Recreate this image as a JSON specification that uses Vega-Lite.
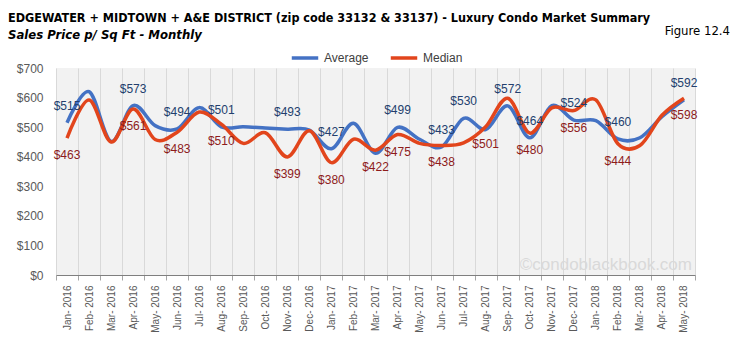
{
  "$schema": "https://vega.github.io/schema/vega-lite/v6.json",
  "autosize": {"type": "none"},
  "width": 639,
  "height": 207,
  "padding": {"left": 56, "top": 68, "right": 43, "bottom": 65},
  "background": "white",
  "title": {
    "text": "EDGEWATER + MIDTOWN + A&E DISTRICT (zip code 33132 & 33137) - Luxury Condo Market Summary",
    "subtitle": "Sales Price  p/ Sq Ft - Monthly",
    "anchor": "start",
    "frame": "group",
    "dx": -48,
    "offset": -17,
    "font": "'Liberation Sans Narrow', 'DejaVu Sans Condensed', Roboto, sans-serif",
    "fontSize": 12.5,
    "fontWeight": "bold",
    "color": "#000000",
    "subtitleFont": "'Liberation Sans Narrow', 'DejaVu Sans Condensed', Roboto, sans-serif",
    "subtitleFontSize": 13,
    "subtitleFontWeight": "bold",
    "subtitleFontStyle": "italic",
    "subtitleColor": "#000000",
    "subtitlePadding": 4
  },
  "data": {"values": [
    {"month": "Jan-2016", "series": "Average", "value": 515, "show": true},
    {"month": "Feb-2016", "series": "Average", "value": 620, "show": false},
    {"month": "Mar-2016", "series": "Average", "value": 452, "show": false},
    {"month": "Apr-2016", "series": "Average", "value": 573, "show": true},
    {"month": "May-2016", "series": "Average", "value": 505, "show": false},
    {"month": "Jun-2016", "series": "Average", "value": 494, "show": true},
    {"month": "Jul-2016", "series": "Average", "value": 566, "show": false},
    {"month": "Aug-2016", "series": "Average", "value": 501, "show": true},
    {"month": "Sep-2016", "series": "Average", "value": 501, "show": false},
    {"month": "Oct-2016", "series": "Average", "value": 497, "show": false},
    {"month": "Nov-2016", "series": "Average", "value": 493, "show": true},
    {"month": "Dec-2016", "series": "Average", "value": 490, "show": false},
    {"month": "Jan-2017", "series": "Average", "value": 427, "show": true},
    {"month": "Feb-2017", "series": "Average", "value": 513, "show": false},
    {"month": "Mar-2017", "series": "Average", "value": 412, "show": false},
    {"month": "Apr-2017", "series": "Average", "value": 499, "show": true},
    {"month": "May-2017", "series": "Average", "value": 459, "show": false},
    {"month": "Jun-2017", "series": "Average", "value": 433, "show": true},
    {"month": "Jul-2017", "series": "Average", "value": 530, "show": true},
    {"month": "Aug-2017", "series": "Average", "value": 492, "show": false},
    {"month": "Sep-2017", "series": "Average", "value": 572, "show": true},
    {"month": "Oct-2017", "series": "Average", "value": 464, "show": true},
    {"month": "Nov-2017", "series": "Average", "value": 573, "show": false},
    {"month": "Dec-2017", "series": "Average", "value": 524, "show": true},
    {"month": "Jan-2018", "series": "Average", "value": 522, "show": false},
    {"month": "Feb-2018", "series": "Average", "value": 460, "show": true},
    {"month": "Mar-2018", "series": "Average", "value": 464, "show": false},
    {"month": "Apr-2018", "series": "Average", "value": 535, "show": false},
    {"month": "May-2018", "series": "Average", "value": 592, "show": true},
    {"month": "Jan-2016", "series": "Median", "value": 463, "show": true},
    {"month": "Feb-2016", "series": "Median", "value": 592, "show": false},
    {"month": "Mar-2016", "series": "Median", "value": 450, "show": false},
    {"month": "Apr-2016", "series": "Median", "value": 561, "show": true},
    {"month": "May-2016", "series": "Median", "value": 458, "show": false},
    {"month": "Jun-2016", "series": "Median", "value": 483, "show": true},
    {"month": "Jul-2016", "series": "Median", "value": 551, "show": false},
    {"month": "Aug-2016", "series": "Median", "value": 510, "show": true},
    {"month": "Sep-2016", "series": "Median", "value": 445, "show": false},
    {"month": "Oct-2016", "series": "Median", "value": 481, "show": false},
    {"month": "Nov-2016", "series": "Median", "value": 399, "show": true},
    {"month": "Dec-2016", "series": "Median", "value": 488, "show": false},
    {"month": "Jan-2017", "series": "Median", "value": 380, "show": true},
    {"month": "Feb-2017", "series": "Median", "value": 459, "show": false},
    {"month": "Mar-2017", "series": "Median", "value": 422, "show": true},
    {"month": "Apr-2017", "series": "Median", "value": 475, "show": true},
    {"month": "May-2017", "series": "Median", "value": 445, "show": false},
    {"month": "Jun-2017", "series": "Median", "value": 438, "show": true},
    {"month": "Jul-2017", "series": "Median", "value": 447, "show": false},
    {"month": "Aug-2017", "series": "Median", "value": 501, "show": true},
    {"month": "Sep-2017", "series": "Median", "value": 598, "show": false},
    {"month": "Oct-2017", "series": "Median", "value": 480, "show": true},
    {"month": "Nov-2017", "series": "Median", "value": 565, "show": false},
    {"month": "Dec-2017", "series": "Median", "value": 556, "show": true},
    {"month": "Jan-2018", "series": "Median", "value": 592, "show": false},
    {"month": "Feb-2018", "series": "Median", "value": 444, "show": true},
    {"month": "Mar-2018", "series": "Median", "value": 438, "show": false},
    {"month": "Apr-2018", "series": "Median", "value": 540, "show": false},
    {"month": "May-2018", "series": "Median", "value": 598, "show": true}
  ]},
  "encoding": {
    "x": {
      "field": "month",
      "type": "nominal",
      "sort": null,
      "scale": {"paddingInner": 0, "paddingOuter": 0},
      "axis": {
        "title": null,
        "labelAngle": -90,
        "labelFontSize": 10,
        "labelFont": "Liberation Sans",
        "labelColor": "#595959",
        "labelPadding": 5,
        "labelExpr": "replace(datum.label, '-', '- ')",
        "grid": true,
        "gridColor": "#D9D9D9",
        "tickBand": "extent",
        "tickColor": "#A6A6A6",
        "tickSize": 5,
        "domainColor": "#7F7F7F"
      }
    }
  },
  "layer": [
    {
      "encoding": {
        "y": {
          "field": "value",
          "type": "quantitative",
          "scale": {"domain": [0, 700], "nice": false},
          "axis": {
            "title": null,
            "values": [0, 100, 200, 300, 400, 500, 600, 700],
            "labelExpr": "'$' + datum.value",
            "labelOverlap": false,
            "domain": false,
            "ticks": false,
            "grid": false,
            "labelFontSize": 12,
            "labelFont": "Liberation Sans",
            "labelColor": "#595959",
            "labelPadding": 13
          }
        }
      },
      "layer": [
        {
          "mark": {"type": "line", "interpolate": "cardinal", "strokeWidth": 3.5},
          "encoding": {
            "color": {
              "field": "series",
              "type": "nominal",
              "scale": {"domain": ["Average", "Median"], "range": ["#4472C4", "#E2451C"]},
              "legend": {
                "orient": "none",
                "legendX": 234,
                "legendY": -25,
                "direction": "horizontal",
                "title": null,
                "symbolType": "stroke",
                "symbolStrokeWidth": 3.5,
                "symbolSize": 700,
                "labelFontSize": 12,
                "labelFont": "Liberation Sans",
                "labelColor": "#404040",
                "columnPadding": 14
              }
            }
          }
        },
        {
          "transform": [{"filter": "datum.series == 'Average' && datum.show"}],
          "mark": {"type": "text", "dy": -17, "color": "#233F6E", "fontSize": 12, "font": "Liberation Sans"},
          "encoding": {
            "text": {"field": "value", "type": "quantitative", "format": "$d"}
          }
        },
        {
          "transform": [{"filter": "datum.series == 'Median' && datum.show"}],
          "mark": {"type": "text", "dy": 17, "color": "#8E1B1B", "fontSize": 12, "font": "Liberation Sans"},
          "encoding": {
            "text": {"field": "value", "type": "quantitative", "format": "$d"}
          }
        }
      ]
    },
    {
      "data": {"values": [{"t": "©condoblackbook.com"}]},
      "mark": {"type": "text", "align": "right", "baseline": "alphabetic", "dx": 8, "fontSize": 17, "font": "Liberation Sans", "color": "#D9D9D9"},
      "encoding": {
        "x": {"datum": "May-2018"},
        "y": {
          "datum": 17,
          "type": "quantitative",
          "scale": {"domain": [0, 700], "nice": false},
          "axis": {
            "title": null,
            "values": [0, 100, 200, 300, 400, 500, 600, 700],
            "labelExpr": "'$' + datum.value",
            "labelOverlap": false,
            "domain": false,
            "ticks": false,
            "grid": false,
            "labelFontSize": 12,
            "labelFont": "Liberation Sans",
            "labelColor": "#595959",
            "labelPadding": 13
          }
        },
        "text": {"field": "t"}
      }
    },
    {
      "data": {"values": [{"t": "Figure 12.4"}]},
      "mark": {"type": "text", "align": "right", "baseline": "alphabetic", "dx": 46, "fontSize": 13, "font": "'Liberation Sans Narrow', 'DejaVu Sans Condensed', Roboto, sans-serif", "color": "#000000"},
      "encoding": {
        "x": {"datum": "May-2018"},
        "y": {
          "datum": 812,
          "type": "quantitative",
          "scale": {"domain": [0, 700], "nice": false},
          "axis": {
            "title": null,
            "values": [0, 100, 200, 300, 400, 500, 600, 700],
            "labelExpr": "'$' + datum.value",
            "labelOverlap": false,
            "domain": false,
            "ticks": false,
            "grid": false,
            "labelFontSize": 12,
            "labelFont": "Liberation Sans",
            "labelColor": "#595959",
            "labelPadding": 13
          }
        },
        "text": {"field": "t"}
      }
    }
  ],
  "config": {
    "view": {"fill": "#F2F2F2", "stroke": null}
  }
}
